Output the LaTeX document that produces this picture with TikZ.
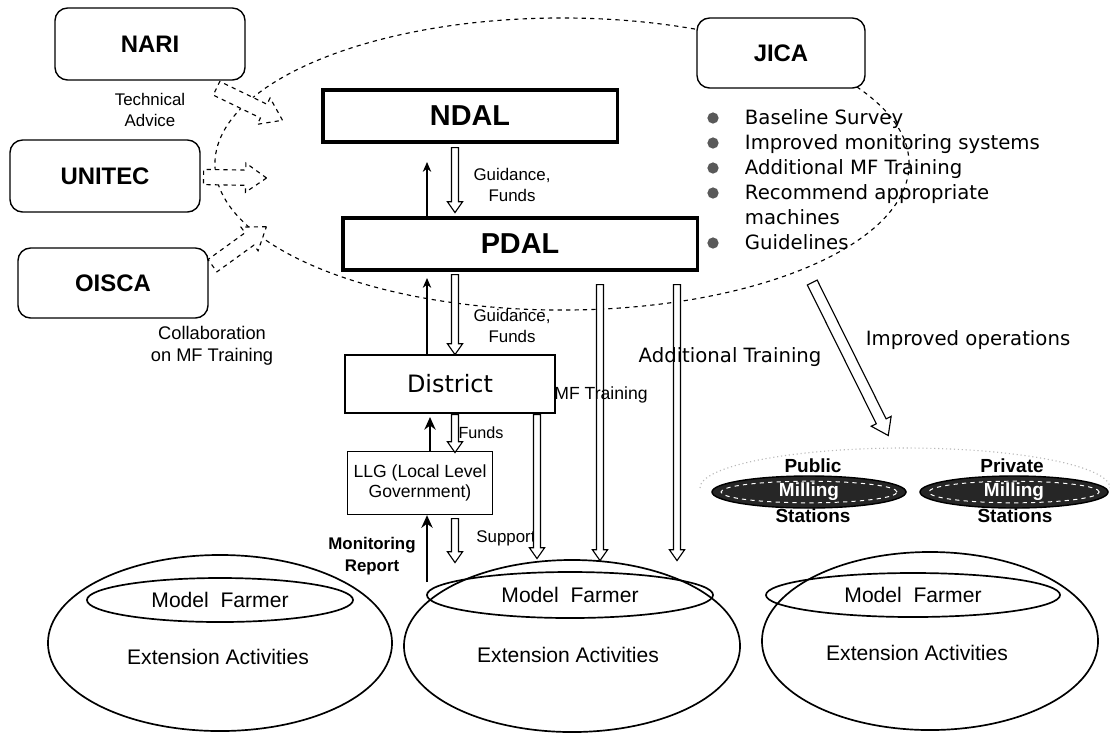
\documentclass[tikz,border=0pt]{standalone}
\usepackage{fontspec}
\setmainfont{Liberation Sans}
\newfontfamily\wideface{DejaVu Sans}
\usetikzlibrary{shapes.geometric,shapes.arrows,arrows.meta,calc}

\tikzset{
  orgbox/.style={draw, rounded corners=9pt, line width=1pt, fill=white,
    minimum width=4.75cm, minimum height=1.8cm, font=\bfseries\fontsize{17}{20}\selectfont},
  deptbox/.style={draw, line width=2.2pt, fill=white, minimum height=1.3cm,
    font=\bfseries\fontsize{20.5}{24}\selectfont},
  unitbox/.style={draw, line width=0.9pt, fill=white, align=center},
  note/.style={align=center, font=\fontsize{12}{15}\selectfont},
  widenote/.style={align=left, font=\wideface\fontsize{14}{17.8}\selectfont},
  hollow/.style={single arrow, draw, fill=white, line width=0.8pt, inner sep=2.1pt,
    single arrow head extend=2.9pt, single arrow tip angle=70},
  thinup/.style={draw, line width=0.8pt, -{Stealth[length=7pt,width=6pt]}},
  thickup/.style={draw, line width=1.6pt, -{Stealth[length=9pt,width=8pt]}},
  area/.style={draw, ellipse, line width=1.2pt},
  farmer/.style={draw, ellipse, line width=1.2pt, font=\fontsize{15}{18}\selectfont},
  extnote/.style={font=\fontsize{15}{18}\selectfont},
  mill/.style={draw, ellipse, line width=1pt, fill=gray!30!black, minimum height=0.8cm},
  milltext/.style={font=\bfseries\fontsize{13.5}{15}\selectfont},
}

% block arrow from one named coordinate to another
\newcommand{\hollowarrow}[3][]{%
  \path let \p1=($(#3)-(#2)$) in
    node[hollow, #1, anchor=tail, minimum height={veclen(\x1,\y1)},
      rotate={atan2(\y1,\x1)}] at (#2) {};}

\begin{document}
\begin{tikzpicture}[x=0.025cm, y=-0.025cm]
    \useasboundingbox (0,0) rectangle (1110,733);

    % JICA project area
    \draw[dashed, line width=0.8pt] (562,164) ellipse [x radius=8.675cm, y radius=3.65cm];

    % Partners
    \node[orgbox] (nari) at (150,44) {NARI};
    \node[orgbox] (unitec) at (105,176) {UNITEC};
    \node[orgbox, minimum height=1.75cm] (oisca) at (113,283) {OISCA};
    \node[orgbox, minimum width=4.2cm, minimum height=1.75cm] (jica) at (781,53) {JICA};

    \node[note] (advice) at (150,110) {Technical\\Advice};
    \node[note, font=\fontsize{13}{16}\selectfont] (collab) at (212,346) {Collaboration\\on MF Training};

    \coordinate (t1) at (216,88);  \coordinate (t2) at (282,120);
    \coordinate (u1) at (203,177); \coordinate (u2) at (266,178);
    \coordinate (o1) at (212,266); \coordinate (o2) at (266,227);
    \hollowarrow[dashed, inner sep=5pt, single arrow head extend=5pt]{t1}{t2}
    \hollowarrow[dashed, inner sep=5pt, single arrow head extend=5pt]{u1}{u2}
    \hollowarrow[dashed, inner sep=5pt, single arrow head extend=5pt]{o1}{o2}

    % JICA inputs
    \node[widenote, anchor=west] (jicalist) at (740,180) {Baseline Survey\\Improved monitoring systems\\Additional MF Training\\Recommend appropriate\\machines\\Guidelines};
    \foreach \y in {118,143,168,193,243}
        \fill[gray!70!black] (713,\y) circle (4pt);

    % Administration chain
    \node[deptbox, minimum width=7.35cm] (ndal) at (470,116) {NDAL};
    \node[deptbox, minimum width=8.85cm] (pdal) at (520,244) {PDAL};
    \node[unitbox, minimum width=5.25cm, minimum height=1.45cm,
        font=\wideface\fontsize{17}{20}\selectfont] (district) at (450,384) {District};
    \node[unitbox, minimum width=3.625cm, minimum height=1.575cm,
        font=\fontsize{12.5}{14.5}\selectfont] (llg) at (420,483) {LLG (Local Level\\Government)};

    \draw[thinup] (pdal.north -| 427,0) -- (427,162);
    \draw[thinup] (district.north -| 427,0) -- (427,278);
    \draw[thickup] (llg.north -| 430,0) -- (430,417);
    \draw[thickup] (427,582) -- (llg.south -| 427,0);

    \coordinate (g1) at (455,147); \coordinate (g2) at (455,212);
    \coordinate (g3) at (455,274); \coordinate (g4) at (455,354);
    \coordinate (g5) at (455,414); \coordinate (g6) at (455,452);
    \coordinate (g7) at (455,518); \coordinate (g8) at (455,562);
    \hollowarrow{g1}{g2}
    \hollowarrow{g3}{g4}
    \hollowarrow{g5}{g6}
    \hollowarrow{g7}{g8}

    \node[note] (gf1) at (512,185) {Guidance,\\Funds};
    \node[note] (gf2) at (512,326) {Guidance,\\Funds};
    \node[note, font=\fontsize{11.5}{13}\selectfont] (funds) at (481,433) {Funds};
    \node[note, font=\bfseries\fontsize{12}{15.5}\selectfont] (monrep) at (372,556) {Monitoring\\Report};
    \node[note] (support) at (506,538) {Support};

    % Training lines to the farmers
    \coordinate (m1) at (537,414); \coordinate (m2) at (537,558);
    \coordinate (a1) at (600,284); \coordinate (a2) at (600,560);
    \coordinate (b1) at (677,284); \coordinate (b2) at (677,560);
    \hollowarrow{m1}{m2}
    \hollowarrow{a1}{a2}
    \hollowarrow{b1}{b2}
    \node[note, font=\fontsize{12.5}{14}\selectfont] (mftrain) at (601,395) {MF Training};
    \node[widenote] (addtrain) at (730,357) {Additional Training};

    % Milling stations
    \coordinate (i1) at (812,282); \coordinate (i2) at (888,435);
    \hollowarrow[inner sep=3.5pt, single arrow head extend=4pt]{i1}{i2}
    \node[widenote] (impops) at (968,340) {Improved operations};

    \draw[gray!55, dotted, line width=0.8pt] (700,488) arc[start angle=180, end angle=360, x radius=205, y radius=40];
    \node[mill, minimum width=4.85cm] (pubmill) at (809,492) {};
    \node[mill, minimum width=4.7cm] (primill) at (1014,492) {};
    \draw[white, dashed, line width=0.7pt] (pubmill.center) ellipse [x radius=2.2cm, y radius=0.27cm];
    \draw[white, dashed, line width=0.7pt] (primill.center) ellipse [x radius=2.13cm, y radius=0.27cm];
    \node[milltext, text=white] (pubname) at (pubmill.center) {Milling};
    \node[milltext, text=white] (priname) at (primill.center) {Milling};
    \node[milltext] (pubtop) at (813,466) {Public};
    \node[milltext] (pubbot) at (813,516) {Stations};
    \node[milltext] (pritop) at (1012,466) {Private};
    \node[milltext] (pribot) at (1015,516) {Stations};

    % Farmer groups
    \node[area, minimum width=8.6cm, minimum height=4.4cm] (area1) at (220,643) {};
    \node[area, minimum width=8.4cm, minimum height=4.3cm] (area2) at (572,646) {};
    \node[area, minimum width=8.4cm, minimum height=4.45cm] (area3) at (930,641) {};
    \node[farmer, minimum width=6.65cm, minimum height=1.1cm] (farmer1) at (220,600) {Model~ Farmer};
    \node[farmer, minimum width=7.15cm, minimum height=1.15cm] (farmer2) at (570,595) {Model~ Farmer};
    \node[farmer, minimum width=7.35cm, minimum height=1.1cm] (farmer3) at (913,595) {Model~ Farmer};
    \node[extnote] (ext1) at (218,657) {Extension Activities};
    \node[extnote] (ext2) at (568,655) {Extension Activities};
    \node[extnote] (ext3) at (917,653) {Extension Activities};
\end{tikzpicture}
\end{document}
